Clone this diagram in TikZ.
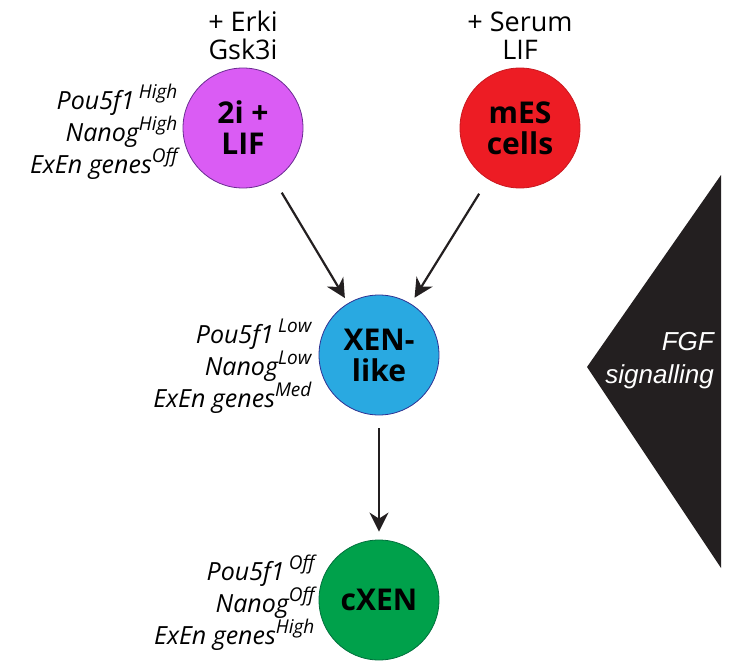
\documentclass[tikz,border=0pt]{standalone}
\usepackage{fontspec}
\setmainfont{Open Sans}
\newfontfamily\helv{Liberation Sans}
\usetikzlibrary{positioning}
\usetikzlibrary{arrows.meta}

\definecolor{ink}{HTML}{231F20}
\definecolor{twoifill}{HTML}{DA5CF4}
\definecolor{twoiline}{HTML}{6A2C91}
\definecolor{mesfill}{HTML}{ED1C24}
\definecolor{xenfill}{HTML}{29A9E1}
\definecolor{xenline}{HTML}{2E3192}
\definecolor{cxenfill}{HTML}{00A14B}
\definecolor{cxenline}{HTML}{00703C}

\newcommand{\lvl}[1]{\raisebox{0.45em}{\fontsize{19}{19}\selectfont #1}}

\begin{document}
\begin{tikzpicture}[x=1pt,y=-1pt,
    cell/.style={circle,draw,line width=0.8pt,minimum size=120pt,inner sep=0pt,align=center,
      font=\fontsize{30}{31}\selectfont\bfseries,text=black},
    cond/.style={align=center,inner sep=0pt,font=\fontsize{27}{28}\selectfont,text=black},
    expr/.style={align=right,inner sep=0pt,font=\fontsize{25}{32}\selectfont\itshape,text=black},
    flow/.style={-{Stealth[length=19pt,width=19pt,inset=6pt]},line width=2.2pt,draw=ink}]
  \useasboundingbox (0,0) rectangle (732,667);

  % cell states
  \node (twoi) [cell,fill=twoifill,draw=twoiline] at (243,128) {2i +\\LIF};
  \node (mes) [cell,fill=mesfill,draw=mesfill!85!black] at (520,128) {mES\\cells};
  \node (xen) [cell,fill=xenfill,draw=xenline] at (379,355) {XEN-\\like};
  \node (cxen) [cell,fill=cxenfill,draw=cxenline] at (379,600) {cXEN};

  % culture conditions
  \node (twoicond) [cond,above=8pt of twoi] {+ Erki\\Gsk3i};
  \node (mescond) [cond,above=8pt of mes] {+ Serum\\LIF};

  % marker levels
  \node (twoiexpr) [expr,left=5pt of twoi,yshift=-4pt]
    {Pou5f1\,\lvl{High}\\Nanog\lvl{High}\\ExEn genes\lvl{Of{}f}};
  \node (xenexpr) [expr,left=7pt of xen,yshift=-11pt]
    {Pou5f1\,\lvl{Low}\\Nanog\lvl{Low}\\ExEn genes\lvl{Med}};
  \node (cxenexpr) [expr,left=4pt of cxen,yshift=-3pt]
    {Pou5f1\,\lvl{Of{}f}\\Nanog\lvl{Of{}f}\\ExEn genes\lvl{High}};

  % FGF gradient
  \fill[ink] (587,367) -- (721,175) -- (721,568) -- cycle;
  \node (fgf) [anchor=east,inner sep=0pt,align=right,text=white,
    font=\helv\itshape\fontsize{26}{33}\selectfont] at (714,361) {FGF\\signalling};

  \draw[flow,shorten <=15pt,shorten >=6pt] (twoi) -- (xen);
  \draw[flow,shorten <=17pt,shorten >=7pt] (mes) -- (xen);
  \draw[flow,shorten <=13pt,shorten >=8pt] (xen) -- (cxen);
\end{tikzpicture}
\end{document}
